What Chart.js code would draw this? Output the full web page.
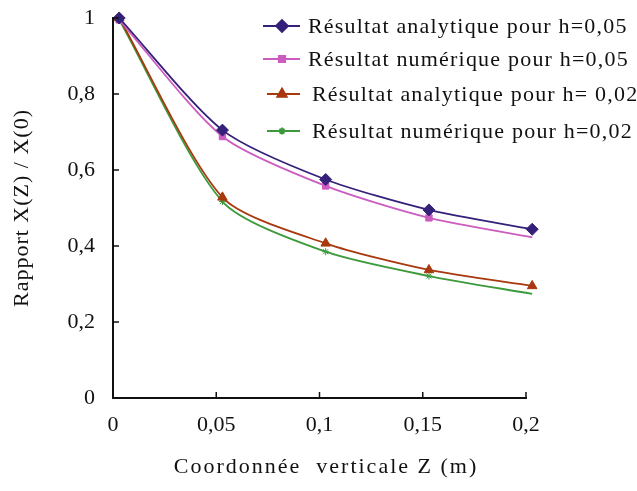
<!DOCTYPE html>
<html>
<head>
<meta charset="utf-8">
<script src="https://cdn.jsdelivr.net/npm/chart.js@4"></script>
<style>
  html, body { margin: 0; padding: 0; background: #fff; }
  #wrap { width: 637px; height: 491px; }
</style>
</head>
<body>
<div id="wrap"><canvas id="graphe"></canvas></div>
<script>
// coordonnée verticale Z (m)
const cotes = [0.003, 0.053, 0.103, 0.153, 0.203];

// rapport X(Z)/X(0)
const analytique005 = [1, 0.705, 0.575, 0.495, 0.444];
const numerique005 = [0.995, 0.688, 0.558, 0.474, 0.423];
const analytique002 = [1, 0.528, 0.407, 0.337, 0.295];
const numerique002 = [0.995, 0.517, 0.385, 0.321, 0.274];

const libelles = [
    "Résultat analytique pour h=0,05",
    "Résultat numérique pour h=0,05",
    "Résultat analytique pour h= 0,02",
    "Résultat numérique pour h=0,02"
];

const xTicks = [0, 0.05, 0.1, 0.15, 0.2];
const yTicks = [0, 0.2, 0.4, 0.6, 0.8, 1];

const serif = "'Liberation Serif', 'Times New Roman', serif";

function points(valeurs) {
    return valeurs.map((v, i) => ({ x: cotes[i], y: v }));
}

function virgule(v) {
    return String(Math.round(v * 100) / 100).replace(".", ",");
}

const series = [
    { label: libelles[0], data: points(analytique005), color: "#35207a", style: "rectRot", r: 6 },
    { label: libelles[1], data: points(numerique005), color: "#cc5cc0", style: "rect", r: 4.5 },
    { label: libelles[2], data: points(analytique002), color: "#a8380e", style: "triangle", r: 5.5 },
    { label: libelles[3], data: points(numerique002), color: "#3c9a3c", style: "star", r: 3.5 }
];

// legend + axis titles + inner tick marks
const decor = {
    id: "decor",
    afterDraw(chart) {
        const ctx = chart.ctx;
        const xs = chart.scales.x;
        const ys = chart.scales.y;
        const area = chart.chartArea;

        ctx.save();
        ctx.strokeStyle = "#111";
        ctx.lineWidth = 1.5;
        xTicks.forEach(t => {
            const px = xs.getPixelForValue(t);
            ctx.beginPath();
            ctx.moveTo(px, area.bottom);
            ctx.lineTo(px, area.bottom - 6);
            ctx.stroke();
        });
        yTicks.forEach(t => {
            const py = ys.getPixelForValue(t);
            ctx.beginPath();
            ctx.moveTo(area.left, py);
            ctx.lineTo(area.left + 6, py);
            ctx.stroke();
        });

        // legend
        const rows = [26, 59, 94, 131];
        const lineStart = [263, 263, 267, 267];
        const textStart = [308, 308, 312, 312];
        ctx.font = "22px " + serif;
        ctx.fillStyle = "#111";
        ctx.textBaseline = "middle";
        ctx.textAlign = "left";
        ctx.letterSpacing = "1.2px";
        series.forEach((s, i) => {
            const y = rows[i];
            ctx.strokeStyle = s.color;
            ctx.lineWidth = 1.8;
            ctx.beginPath();
            ctx.moveTo(lineStart[i], y);
            ctx.lineTo(300, y);
            ctx.stroke();
            ctx.fillStyle = s.color;
            Chart.helpers.drawPoint(ctx, {
                pointStyle: s.style, radius: s.r, rotation: 0, borderWidth: 1.5
            }, 282, y);
            ctx.fillStyle = "#111";
            ctx.fillText(s.label, textStart[i], y + 1);
        });

        // x title
        ctx.textAlign = "center";
        ctx.letterSpacing = "2px";
        ctx.fillText("Coordonnée  verticale Z (m)", 326, 467);

        // y title
        ctx.translate(22, 208);
        ctx.rotate(-Math.PI / 2);
        ctx.letterSpacing = "1px";
        ctx.fillText("Rapport X(Z) / X(0)", 0, 0);
        ctx.restore();
    }
};

new Chart(document.getElementById("graphe"), {
    type: "line",
    data: {
        datasets: series.map(s => ({
            label: s.label,
            data: s.data,
            borderColor: s.color,
            backgroundColor: s.color,
            borderWidth: 1.8,
            pointStyle: s.style,
            pointRadius: s.r,
            pointBorderWidth: 1,
            tension: 0.25,
            fill: false,
            clip: false
        }))
    },
    options: {
        responsive: true,
        maintainAspectRatio: false,
        animation: false,
        layout: { padding: { top: 18, right: 111, bottom: 0, left: 0 } },
        plugins: {
            legend: { display: false },
            tooltip: { enabled: false }
        },
        scales: {
            x: {
                type: "linear",
                min: 0,
                max: 0.2,
                afterBuildTicks: scale => {
                    scale.ticks = xTicks.map(v => ({ value: v }));
                },
                afterFit: scale => {
                    scale.height = 93;
                    scale.paddingLeft = 0;
                    scale.paddingRight = 0;
                },
                grid: { display: false, drawTicks: false },
                border: { display: true, color: "#111", width: 2 },
                ticks: {
                    padding: 14,
                    color: "#111",
                    font: { family: serif, size: 22 },
                    callback: v => virgule(v)
                }
            },
            y: {
                min: 0,
                max: 1,
                afterBuildTicks: scale => {
                    scale.ticks = yTicks.map(v => ({ value: v }));
                },
                afterFit: scale => {
                    scale.width = 113;
                    scale.paddingTop = 0;
                    scale.paddingBottom = 0;
                },
                grid: { display: false, drawTicks: false },
                border: { display: true, color: "#111", width: 2 },
                ticks: {
                    padding: 18,
                    color: "#111",
                    font: { family: serif, size: 22 },
                    callback: v => virgule(v)
                }
            }
        }
    },
    plugins: [decor]
});
</script>
</body>
</html>
